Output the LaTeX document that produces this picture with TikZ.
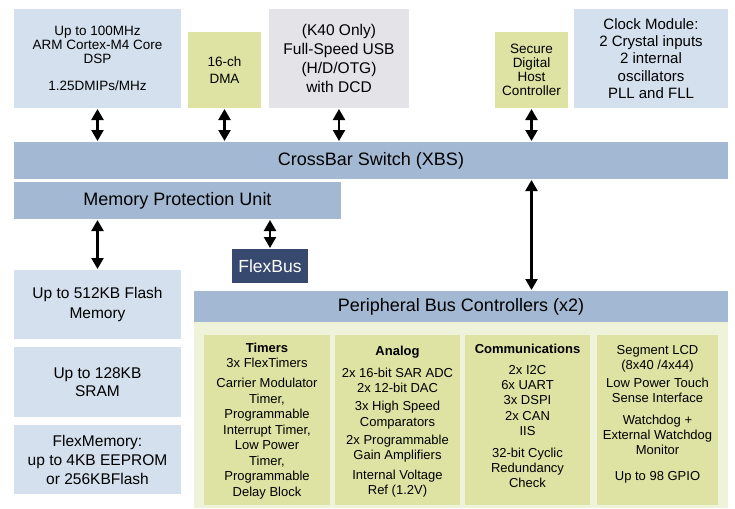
\documentclass[tikz,border=0pt]{standalone}
\usepackage{fontspec}
\setmainfont{Liberation Sans}
\usetikzlibrary{arrows.meta}
\newcommand\fsz[2]{\fontsize{#1}{#2}\selectfont}
\definecolor{paleblue}{HTML}{D4E0ED}
\definecolor{barblue}{HTML}{A3B9D3}
\definecolor{olive}{HTML}{DEE2A2}
\definecolor{usbgray}{HTML}{E3E3E8}
\definecolor{navy}{HTML}{37496E}
\definecolor{palepanel}{HTML}{EFF3D9}
\tikzset{
  blk/.style={inner sep=0pt, outer sep=0pt, align=center, text=black, draw=none},
  dbl/.style={{Triangle[width=12pt,length=11pt]}-{Triangle[width=12pt,length=11pt]}, line width=2.3pt, black, shorten <=1pt, shorten >=1pt},
}
\begin{document}
\begin{tikzpicture}[x=1pt,y=-1pt]
\useasboundingbox[fill=white] (0,0) rectangle (735,508);
% top row
\node[blk, fill=paleblue, minimum width=167pt, minimum height=99pt, font=\fsz{13.5}{14.3}] (core) at (97.5,58.5)
  {Up to 100MHz\\ARM Cortex-M4 Core\\DSP\\[12.7pt]1.25DMIPs/MHz};
\node[blk, fill=olive, minimum width=73pt, minimum height=76pt, font=\fsz{13.5}{17}] (dma) at (224.5,70)
  {16-ch\\DMA};
\node[blk, fill=usbgray, minimum width=140pt, minimum height=99pt, font=\fsz{15.5}{19.3}] (usb) at (339,58.5)
  {(K40 Only)\\Full-Speed USB\\(H/D/OTG)\\with DCD};
\node[blk, fill=olive, minimum width=73pt, minimum height=76pt, font=\fsz{13.5}{13.8}] (sdhc) at (531.5,70)
  {Secure\\Digital\\Host\\Controller};
\node[blk, fill=paleblue, minimum width=154pt, minimum height=99pt, font=\fsz{15}{17.2}] (clock) at (651,58.5)
  {Clock Module:\\2 Crystal inputs\\2 internal\\oscillators\\PLL and FLL};
% buses
\node[blk, fill=barblue, minimum width=714pt, minimum height=37pt, font=\fsz{18}{20}] (xbs) at (371,160.5)
  {CrossBar Switch (XBS)};
\node[blk, fill=barblue, minimum width=327pt, minimum height=37pt, font=\fsz{18}{20}] (mpu) at (177.5,200.5)
  {Memory Protection Unit};
\node[blk, fill=navy, text=white, minimum width=76pt, minimum height=34pt, font=\fsz{17.5}{20}] (flexbus) at (270,266)
  {FlexBus};
\node[blk, fill=barblue, minimum width=534pt, minimum height=31pt, font=\fsz{18}{20}] (pbc) at (461,306.5)
  {Peripheral Bus Controllers (x2)};
% memories
\node[blk, fill=paleblue, minimum width=167pt, minimum height=69pt, font=\fsz{15.5}{20}] (flash) at (97.5,304.5)
  {Up to 512KB Flash\\Memory};
\node[blk, fill=paleblue, minimum width=167pt, minimum height=70pt, font=\fsz{15.5}{18}] (sram) at (97.5,382)
  {Up to 128KB\\SRAM};
\node[blk, fill=paleblue, minimum width=167pt, minimum height=69pt, font=\fsz{15.5}{19}] (flexmem) at (97.5,459.5)
  {FlexMemory:\\up to 4KB EEPROM\\or 256KBFlash};
% peripheral panel
\node[blk, fill=palepanel, minimum width=534pt, minimum height=186pt] (panel) at (461,415) {};
\node[blk, fill=olive, minimum width=126pt, minimum height=170pt] (ptim) at (267,420) {};
\node[blk, fill=olive, minimum width=125pt, minimum height=170pt] (pana) at (397.5,420) {};
\node[blk, fill=olive, minimum width=125pt, minimum height=170pt] (pcom) at (527.5,420) {};
\node[blk, fill=olive, minimum width=121pt, minimum height=170pt] (pmisc) at (657.5,420) {};
\node[blk, anchor=north, font=\fsz{13}{15.5}] (ttim) at (267,343)
  {\textbf{Timers}\\3x FlexTimers\\[4.5pt]Carrier Modulator\\Timer,\\Programmable\\Interrupt Timer,\\Low Power\\Timer,\\Programmable\\Delay Block};
\node[blk, anchor=north, font=\fsz{13}{15.3}] (tana) at (397.5,346)
  {\textbf{Analog}\\[6.5pt]2x 16-bit SAR ADC\\2x 12-bit DAC\\[3pt]3x High Speed\\Comparators\\[3pt]2x Programmable\\Gain Amplifiers\\[4.5pt]Internal Voltage\\Ref (1.2V)};
\node[blk, anchor=north, font=\fsz{13}{15.3}] (tcom) at (527.5,344)
  {\textbf{Communications}\\[5.5pt]2x I2C\\6x UART\\3x DSPI\\2x CAN\\IIS\\[6.5pt]32-bit Cyclic\\Redundancy\\Check};
\node[blk, anchor=north, font=\fsz{13}{15.3}] (tmisc) at (657.5,345)
  {Segment LCD\\(8x40 /4x44)\\[2.5pt]Low Power Touch\\Sense Interface\\[6.5pt]Watchdog +\\External Watchdog\\Monitor\\[10pt]Up to 98 GPIO};
% connectors
\draw[dbl] (core.south) -- (core.south |- xbs.north);
\draw[dbl] (dma.south) -- (dma.south |- xbs.north);
\draw[dbl] (usb.south) -- (usb.south |- xbs.north);
\draw[dbl] (sdhc.south) -- (sdhc.south |- xbs.north);
\draw[dbl] (sdhc.south |- xbs.south) -- (sdhc.south |- pbc.north);
\draw[dbl] (mpu.south -| flash.north) -- (flash.north);
\draw[dbl] (mpu.south -| flexbus.north) -- (flexbus.north);
\end{tikzpicture}
\end{document}
